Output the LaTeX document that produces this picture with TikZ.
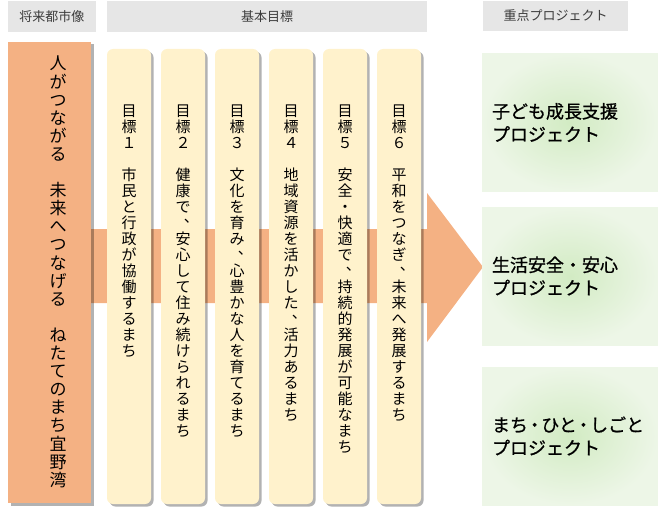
\documentclass[tikz,border=0pt]{standalone}
\usepackage{fontspec}
\setmainfont{Noto Sans CJK JP}
\newfontfamily\projfont{Noto Sans CJK JP}[FakeBold=0.9]
\usetikzlibrary{positioning,shadows}

\definecolor{orng}{HTML}{F4B183}
\definecolor{cream}{HTML}{FFF2CC}
\definecolor{hdgray}{HTML}{E6E6E6}
\definecolor{hdtext}{HTML}{3C3C3C}
\definecolor{grn}{HTML}{D2EBC3}
\definecolor{grnedge}{HTML}{EDF6E7}

% vertical (tategaki) text: one character per line
\newcommand\tate[1]{\vbox{\lineskiplimit=-\maxdimen\tateloop#1\relax}}
\newcommand\tateloop[1]{\ifx\relax#1\else\tatechar{#1}\expandafter\tateloop\fi}
\newcommand\tatechar[1]{\ifx、#1\hbox to 1em{\hskip0.55em\raisebox{0.42em}[0pt][0pt]{、}\hss}\else\hbox to 1em{\hss#1\hss}\fi}
\newcommand\ndot{\hspace{-.13em}・\hspace{-.13em}}

\begin{document}
\begin{tikzpicture}[x=1pt,y=-1pt,
    shade/.style={drop shadow={shadow xshift=2.5pt,shadow yshift=-2.5pt,fill=black,opacity=.3}},
    head/.style={fill=hdgray,inner sep=0pt,text=hdtext,font=\fontsize{13}{15}\selectfont},
    goal/.style={fill=cream,inner sep=0pt,minimum width=44pt,minimum height=455pt,rounded corners=6pt,shade},
    goaltext/.style={inner sep=0pt,anchor=north,font=\fontsize{15}{16}\selectfont},
    proj/.style={inner sep=0pt,minimum width=176pt,minimum height=138pt,shading=radial,inner color=grn,outer color=grnedge},
    projtext/.style={inner sep=0pt,anchor=west,align=left,font=\fontsize{18}{23}\projfont}]

  \useasboundingbox (0,0) rectangle (658,516);

  % band and big arrow
  \coordinate (tip) at (483,267);
  \fill[orng] (91,229) -- (427,229) -- (427,193) -- (tip) -- (427,342) -- (427,303) -- (91,303) -- cycle;

  % headers
  \begin{scope}[every node/.style={head}]
    \node[minimum width=88pt,minimum height=31pt]  (h1) at (52,16.5)  {将来都市像};
    \node[minimum width=320pt,minimum height=31pt] (h2) at (267,16.5) {基本目標};
    \node[minimum width=145pt,minimum height=30pt] (h3) at (555.5,16) {重点プロジェクト};
  \end{scope}

  % vision
  \node[fill=orng,inner sep=0pt,minimum width=83pt,minimum height=461pt,shade] (v) at (49.5,272.5) {};
  \node[inner sep=0pt,anchor=north,font=\fontsize{17}{18.1}\selectfont] (vt) at (58,56)
    {\tate{人がつながる　未来へつなげる　ねたてのまち宜野湾}};

  % goals
  \begin{scope}[every node/.style={goal}]
    \node (g1) at (129,276.5) {};
    \node (g2) at (183,276.5) {};
    \node (g3) at (237,276.5) {};
    \node (g4) at (291,276.5) {};
    \node (g5) at (345,276.5) {};
    \node (g6) at (399,276.5) {};
  \end{scope}

  \begin{scope}[every node/.style={goaltext}]
    \node[below=56pt of g1.north] (g1t) {\tate{目標１　市民と行政が協働するまち}};
    \node[below=56pt of g2.north] (g2t) {\tate{目標２　健康で、安心して住み続けられるまち}};
    \node[below=56pt of g3.north] (g3t) {\tate{目標３　文化を育み、心豊かな人を育てるまち}};
    \node[below=56pt of g4.north] (g4t) {\tate{目標４　地域資源を活かした、活力あるまち}};
    \node[below=56pt of g5.north] (g5t) {\tate{目標５　安全・快適で、持続的発展が可能なまち}};
    \node[below=56pt of g6.north] (g6t) {\tate{目標６　平和をつなぎ、未来へ発展するまち}};
  \end{scope}

  % projects
  \begin{scope}[every node/.style={proj}]
    \node (p1) at (570,122.5) {};
    \node (p2) at (570,276)   {};
    \node (p3) at (570,436)   {};
  \end{scope}

  \begin{scope}[every node/.style={projtext}]
    \node[right=10pt of p1.west] (p1t) {子ども成長支援\\プロジェクト};
    \node[right=10pt of p2.west] (p2t) {生活安全・安心\\プロジェクト};
    \node[right=10pt of p3.west] (p3t) {まち\ndot ひと\ndot しごと\\プロジェクト};
  \end{scope}

\end{tikzpicture}
\end{document}
